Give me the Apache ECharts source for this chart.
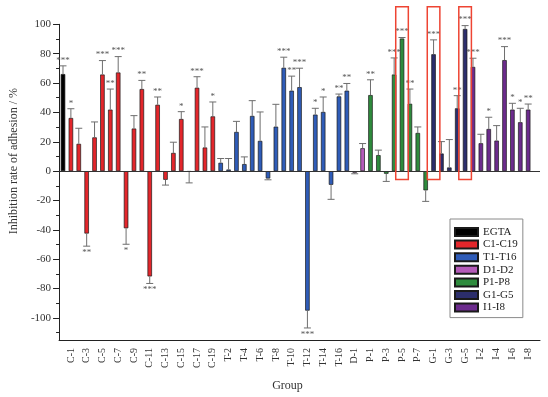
<!DOCTYPE html>
<html>
<head>
<meta charset="utf-8">
<script src="https://cdn.jsdelivr.net/npm/echarts@6/dist/echarts.min.js"></script>
<style>
html, body { margin: 0; padding: 0; background: #fff; }
#chart { width: 548px; height: 397px; }
</style>
</head>
<body>
<div id="chart"></div>
<script>
const categories = [
    'EGTA',
    'C-1', 'C-2', 'C-3', 'C-4', 'C-5', 'C-6', 'C-7', 'C-8', 'C-9', 'C-10',
    'C-11', 'C-12', 'C-13', 'C-14', 'C-15', 'C-16', 'C-17', 'C-18', 'C-19',
    'T-1', 'T-2', 'T-3', 'T-4', 'T-5', 'T-6', 'T-7', 'T-8', 'T-9', 'T-10',
    'T-11', 'T-12', 'T-13', 'T-14', 'T-15', 'T-16', 'T-17',
    'D-1', 'D-2',
    'P-1', 'P-2', 'P-3', 'P-4', 'P-5', 'P-6', 'P-7', 'P-8',
    'G-1', 'G-2', 'G-3', 'G-4', 'G-5',
    'I-1', 'I-2', 'I-3', 'I-4', 'I-5', 'I-6', 'I-7', 'I-8'
]
// mean inhibition rate
const values = [
    66.1,
    36.2, 18.6, -42.5, 23.0, 65.8, 41.9, 67.2, -38.9, 29.0, 55.9,
    -71.7, 45.2, -5.9, 12.4, 35.5, -0.4, 56.8, 16.1, 37.3,
    5.7, 1.1, 26.7, 4.8, 37.6, 20.6, -5.0, 30.3, 70.4, 54.8,
    57.2, -95.0, 38.5, 40.3, -9.3, 50.9, 54.8,
    -1.1, 15.6,
    51.8, 10.9, -1.8, 65.8, 90.3, 45.9, 26.0, -13.1,
    79.6, 12.0, 2.5, 42.8, 96.8,
    71.0, 19.0, 28.7, 20.8, 75.6, 41.9, 33.3, 41.9
]
// end of the error bar (mean +/- sd)
const errors = [
    71.7,
    42.5, 29.2, -51.1, 33.5, 75.3, 55.9, 78.0, -49.8, 37.8, 61.8,
    -76.5, 50.5, -9.5, 19.7, 40.5, -8.0, 64.3, 30.1, 47.1,
    8.6, 8.6, 33.9, 9.7, 48.0, 40.3, -5.9, 45.5, 77.6, 64.7,
    70.1, -106.8, 42.8, 50.5, -19.2, 52.5, 59.7,
    -1.8, 18.8,
    62.2, 14.3, -7.0, 77.1, 91.0, 55.9, 30.1, -20.6,
    89.4, 20.1, 21.5, 51.4, 99.1,
    76.9, 25.1, 36.7, 31.0, 84.8, 46.2, 42.8, 45.7
]
const stars = [
    '***',
    '*', '', '**', '', '***', '**', '***', '*', '', '**',
    '***', '**', '', '', '*', '', '***', '', '*',
    '', '', '', '', '', '', '', '', '***', '**',
    '***', '***', '*', '*', '', '**', '**',
    '', '',
    '**', '', '', '***', '***', '**', '', '',
    '***', '', '', '**', '***',
    '***', '', '*', '', '***', '*', '*', '**'
]
const groupNames = ['EGTA', 'C1-C19', 'T1-T16', 'D1-D2', 'P1-P8', 'G1-G5', 'I1-I8']
const groupKeys = ['E', 'C', 'T', 'D', 'P', 'G', 'I']
const groupColors = ['#000000', '#e3262b', '#2f5cb8', '#b45bb9', '#2e8b3d', '#2c2e6c', '#6c2b8d']
const highlighted = ['P-5', 'G-1', 'G-5']
const yLabelTicks = [-100, -80, -60, -40, -20, 0, 20, 40, 60, 80, 100]
const yMinorTicks = [-110, -90, -70, -50, -30, -10, 10, 30, 50, 70, 90]

const font = '"Liberation Serif", "Times New Roman", serif'
const axisColor = '#222'
const boxTop = 112
const boxBottom = -5.7

const chart = echarts.init(document.getElementById('chart'))

const barSeries = groupNames.map((name, g) => ({
    name: name,
    type: 'bar',
    barWidth: 4.5,
    barGap: '-100%',
    itemStyle: { color: groupColors[g], borderColor: '#1a1a1a', borderWidth: 0.7 },
    data: values.map((v, i) => categories[i][0] === groupKeys[g] ? v : '-')
}))
// zero line across the plot
barSeries[0].markLine = {
    silent: true,
    symbol: ['none', 'none'],
    label: { show: false },
    lineStyle: { color: '#333', width: 1, type: 'solid' },
    data: [{ yAxis: 0 }]
}

const errorSeries = {
    type: 'custom',
    silent: true,
    z: 3,
    data: values.map((v, i) => [i, v, errors[i]]),
    encode: { x: 0, y: [1, 2] },
    renderItem: function (params, api) {
        const i = api.value(0)
        const v = api.value(1)
        const top = api.coord([i, v])
        const end = api.coord([i, api.value(2)])
        const down = v < 0
        const ls = { stroke: '#6e6e6e', lineWidth: 1 }
        return {
            type: 'group',
            children: [
                { type: 'line', shape: { x1: top[0], y1: top[1], x2: end[0], y2: end[1] }, style: ls },
                { type: 'line', shape: { x1: end[0] - 3.5, y1: end[1], x2: end[0] + 3.5, y2: end[1] }, style: ls },
                {
                    type: 'text',
                    style: {
                        text: stars[params.dataIndex],
                        x: end[0],
                        y: down ? end[1] + 2 : end[1] - 1,
                        align: 'center',
                        verticalAlign: down ? 'top' : 'bottom',
                        font: '9px ' + font,
                        fill: '#555'
                    }
                }
            ]
        }
    }
}

const tickFn = i => i % 2 === 1

chart.setOption({
    animation: false,
    backgroundColor: '#fff',
    grid: { left: 54, right: 8, top: 24.3, bottom: 55.3 },
    legend: {
        orient: 'vertical',
        left: 450,
        top: 219,
        data: groupNames,
        icon: 'rect',
        itemWidth: 23,
        itemHeight: 8,
        itemGap: 0.6,
        padding: [7, 5, 4, 4],
        borderColor: '#8a8a8a',
        borderWidth: 1,
        textStyle: { fontFamily: font, fontSize: 11, color: '#222', lineHeight: 12 }
    },
    xAxis: [
        {
            type: 'category',
            data: categories.concat(['']),
            axisLine: { onZero: false, lineStyle: { color: axisColor, width: 1 } },
            axisTick: { alignWithLabel: true, interval: tickFn, length: 5, lineStyle: { color: axisColor } },
            axisLabel: { interval: tickFn, rotate: 90, margin: 8, fontFamily: font, fontSize: 10, color: '#333' },
            name: 'Group',
            nameLocation: 'middle',
            nameGap: 40,
            nameTextStyle: { fontFamily: font, fontSize: 12, color: '#333', padding: [0, 24, 0, 0] }
        },
        {
            type: 'category',
            position: 'bottom',
            data: categories.concat(['']),
            axisLine: { show: false, onZero: false },
            axisTick: { alignWithLabel: true, interval: i => i % 2 === 0, length: 3, lineStyle: { color: axisColor } },
            axisLabel: { show: false }
        }
    ],
    yAxis: [
        {
            type: 'value',
            position: 'left',
            min: -115,
            max: 100,
            axisLine: { show: true, lineStyle: { color: axisColor, width: 1 } },
            axisTick: { show: true, length: 6, customValues: yLabelTicks, lineStyle: { color: axisColor } },
            axisLabel: { customValues: yLabelTicks, margin: 8, fontFamily: font, fontSize: 11, color: '#333' },
            splitLine: { show: false },
            name: 'Inhibition rate of adhesion / %',
            nameLocation: 'middle',
            nameGap: 35,
            nameRotate: 90,
            nameTextStyle: { fontFamily: font, fontSize: 12, color: '#333', padding: [0, 0, 0, 42] }
        },
        {
            type: 'value',
            position: 'left',
            min: -115,
            max: 100,
            axisLine: { show: false },
            axisTick: { show: true, length: 3, customValues: yMinorTicks, lineStyle: { color: axisColor } },
            axisLabel: { show: false },
            splitLine: { show: false }
        }
    ],
    series: barSeries.concat([errorSeries])
})

// red frames round the highlighted compounds
const finder = { xAxisIndex: 0, yAxisIndex: 0 }
const boxes = highlighted.map(c => {
    const p1 = chart.convertToPixel(finder, [c, boxTop])
    const p2 = chart.convertToPixel(finder, [c, boxBottom])
    return {
        type: 'rect',
        z: 100,
        shape: { x: p1[0] - 6.3, y: p1[1], width: 12.6, height: p2[1] - p1[1] },
        style: { fill: 'none', stroke: '#ee4433', lineWidth: 1.5 }
    }
})
chart.setOption({ graphic: boxes })
</script>
</body>
</html>
